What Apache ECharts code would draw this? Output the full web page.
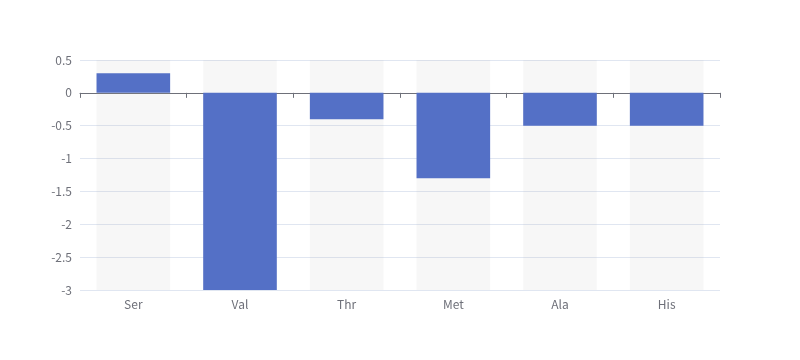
<!DOCTYPE html>
<html><head><meta charset="utf-8">
<script src="https://cdn.jsdelivr.net/npm/echarts@6/dist/echarts.min.js"></script>
<style>html,body{margin:0;padding:0;background:#fff}#c{width:800px;height:360px}</style>
</head><body><div id="c"></div>
<script>
var categories = ['Ser', 'Val', 'Thr', 'Met', 'Ala', 'His'];
var values = [0.3, -3, -0.4, -1.3, -0.5, -0.5];
var yTicks = {min: -3, max: 0.5, interval: 0.5};
var chart = echarts.init(document.getElementById('c'));
chart.setOption({
  animation: false,
  textStyle: {fontFamily: 'Noto Sans CJK SC'},
  grid: {left: 80, right: 80, top: 60, bottom: 70},
  xAxis: [{
    type: 'category', data: categories,
    axisLine: {onZero: true, lineStyle: {color: '#6E7079'}},
    axisTick: {show: true},
    axisLabel: {show: false}
  }, {
    type: 'category', data: categories, position: 'bottom',
    axisLine: {show: false}, axisTick: {show: false},
    axisLabel: {color: '#6E7079', fontSize: 12, fontFamily: 'Noto Sans CJK SC'}
  }],
  yAxis: {
    type: 'value', min: yTicks.min, max: yTicks.max, interval: yTicks.interval,
    axisLabel: {color: '#6E7079', fontFamily: 'Noto Sans CJK SC'},
    splitLine: {lineStyle: {color: '#E0E6F1'}}
  },
  series: [{
    type: 'bar', data: values, xAxisIndex: 0,
    barWidth: '69%',
    itemStyle: {color: '#5470C6'},
    showBackground: true,
    backgroundStyle: {color: 'rgba(180,180,180,0.1)'}
  }]
});
</script></body></html>
